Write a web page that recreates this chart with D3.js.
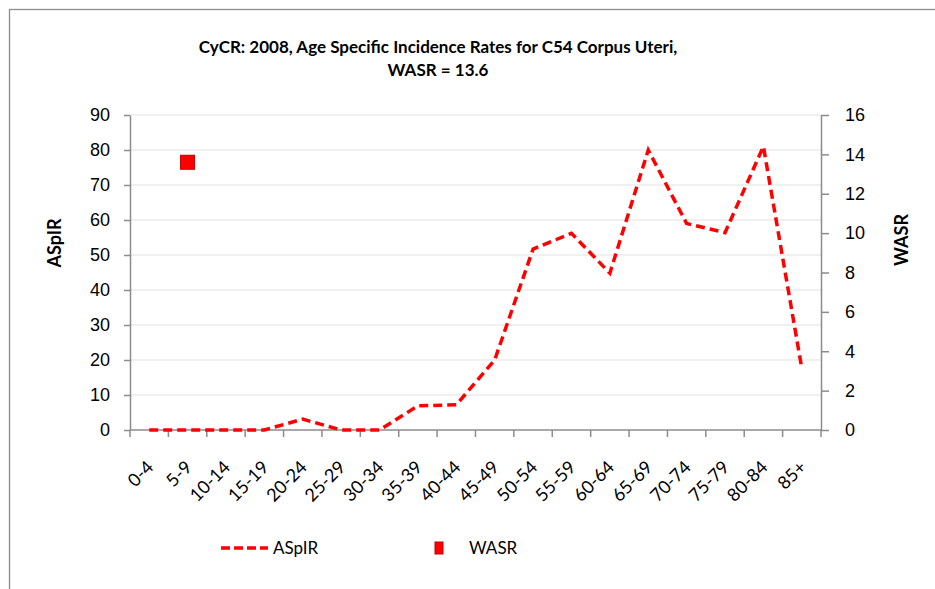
<!DOCTYPE html>
<html>
<head>
<meta charset="utf-8">
<script src="https://cdn.jsdelivr.net/npm/d3@7"></script>
<style>
  body { margin: 0; background: #fff; }
  svg { display: block; font-family: Lato, "Open Sans", sans-serif; }
</style>
</head>
<body>
<script>
// age groups and rates
var ageGroups = ['0-4', '5-9', '10-14', '15-19', '20-24', '25-29', '30-34', '35-39', '40-44',
    '45-49', '50-54', '55-59', '60-64', '65-69', '70-74', '75-79', '80-84', '85+'];
var aspirValues = [0, 0, 0, 0, 3.1, 0, 0, 6.9, 7.2, 20.0, 51.7, 56.2, 44.8, 80.0, 59.0, 56.4, 81.0, 17.6];
var wasrPoint = {group: '5-9', value: 13.6};
var leftTicks = [0, 10, 20, 30, 40, 50, 60, 70, 80, 90];
var rightTicks = [0, 2, 4, 6, 8, 10, 12, 14, 16];

var width = 935, height = 589;
var margin = {top: 115, left: 130, right: 114, bottom: 159};
var plotW = width - margin.left - margin.right;
var plotH = height - margin.top - margin.bottom;

var svg = d3.select('body').append('svg')
    .attr('width', width)
    .attr('height', height);

// chart border
svg.append('rect')
    .attr('x', 9.5).attr('y', 9.5)
    .attr('width', 940).attr('height', 600)
    .attr('fill', 'none')
    .attr('stroke', '#8c8c8c')
    .attr('stroke-width', 1.3);

var x = d3.scaleBand().domain(ageGroups).range([0, plotW]);
var yL = d3.scaleLinear().domain([0, 90]).range([plotH, 0]);
var yR = d3.scaleLinear().domain([0, 16]).range([plotH, 0]);

var g = svg.append('g').attr('transform', 'translate(' + margin.left + ',' + margin.top + ')');

// gridlines
g.selectAll('.grid')
    .data(leftTicks.slice(1))
    .enter().append('line')
        .attr('x1', 0).attr('x2', plotW)
        .attr('y1', function(d) { return yL(d); })
        .attr('y2', function(d) { return yL(d); })
        .attr('stroke', '#ebebeb')
        .attr('stroke-width', 1.3);

var axisColor = '#8c8c8c';

function styleAxis(sel) {
    sel.selectAll('path, line').attr('stroke', axisColor).attr('stroke-width', 1.5);
    sel.selectAll('text').attr('fill', '#000').style('font-size', '18px');
}

var leftAxis = g.append('g')
    .call(d3.axisLeft(yL).tickValues(leftTicks).tickSize(6).tickSizeOuter(0).tickPadding(14));
styleAxis(leftAxis);

var rightAxis = g.append('g')
    .attr('transform', 'translate(' + plotW + ',0)')
    .call(d3.axisRight(yR).tickValues(rightTicks).tickSize(8).tickSizeOuter(0).tickPadding(16));
styleAxis(rightAxis);

// x axis: ticks at category boundaries
var bottom = g.append('g').attr('transform', 'translate(0,' + plotH + ')');
bottom.append('line')
    .attr('x1', 0).attr('x2', plotW)
    .attr('stroke', axisColor).attr('stroke-width', 1.5);
var bounds = d3.range(ageGroups.length + 1).map(function(i) { return i * x.step(); });
bottom.selectAll('.xtick')
    .data(bounds)
    .enter().append('line')
        .attr('x1', function(d) { return d; })
        .attr('x2', function(d) { return d; })
        .attr('y1', 0).attr('y2', 7)
        .attr('stroke', axisColor).attr('stroke-width', 1.5);
bottom.selectAll('.xlabel')
    .data(ageGroups)
    .enter().append('text')
        .attr('transform', function(d) {
            return 'translate(' + (x(d) + x.bandwidth() / 2 + 1) + ',34) rotate(-45)';
        })
        .attr('text-anchor', 'end')
        .attr('dy', '0.35em')
        .style('font-size', '18px')
        .text(function(d) { return d; });

// ASpIR line
var line = d3.line()
    .x(function(d, i) { return x(ageGroups[i]) + x.bandwidth() / 2; })
    .y(function(d) { return yL(d); });

g.append('path')
    .datum(aspirValues)
    .attr('d', line)
    .attr('fill', 'none')
    .attr('stroke', '#ff0000')
    .attr('stroke-width', 3.5)
    .attr('stroke-dasharray', '9,5');

// WASR marker on right axis
var ms = 14;
g.append('rect')
    .attr('x', x(wasrPoint.group) + x.bandwidth() / 2 - ms / 2)
    .attr('y', yR(wasrPoint.value) - ms / 2)
    .attr('width', ms).attr('height', ms)
    .attr('fill', '#ff0000')
    .attr('stroke', '#c00000')
    .attr('stroke-width', 1);

// titles
var title = svg.append('text')
    .attr('x', 438).attr('y', 53)
    .attr('text-anchor', 'middle')
    .style('font-size', '17px')
    .style('font-weight', 'bold');
title.append('tspan').attr('x', 438).text('CyCR: 2008, Age Specific Incidence Rates for C54 Corpus Uteri,');
title.append('tspan').attr('x', 438).attr('dy', 23).text('WASR = 13.6');

svg.append('text')
    .attr('transform', 'translate(61,243) rotate(-90)')
    .attr('text-anchor', 'middle')
    .style('font-size', '18px')
    .style('font-weight', 'bold')
    .text('ASpIR');

svg.append('text')
    .attr('transform', 'translate(908,240) rotate(-90)')
    .attr('text-anchor', 'middle')
    .style('font-size', '18px')
    .style('font-weight', 'bold')
    .text('WASR');

// legend
var legend = svg.append('g').attr('transform', 'translate(0,548)');
legend.append('line')
    .attr('x1', 221).attr('x2', 268)
    .attr('stroke', '#ff0000')
    .attr('stroke-width', 3.5)
    .attr('stroke-dasharray', '9,4');
legend.append('text')
    .attr('x', 273).attr('dy', '0.35em')
    .style('font-size', '17px')
    .text('ASpIR');
legend.append('rect')
    .attr('x', 435).attr('y', -6)
    .attr('width', 8).attr('height', 12)
    .attr('fill', '#ff0000')
    .attr('stroke', '#c00000')
    .attr('stroke-width', 1);
legend.append('text')
    .attr('x', 469).attr('dy', '0.35em')
    .style('font-size', '17px')
    .text('WASR');
</script>
</body>
</html>
